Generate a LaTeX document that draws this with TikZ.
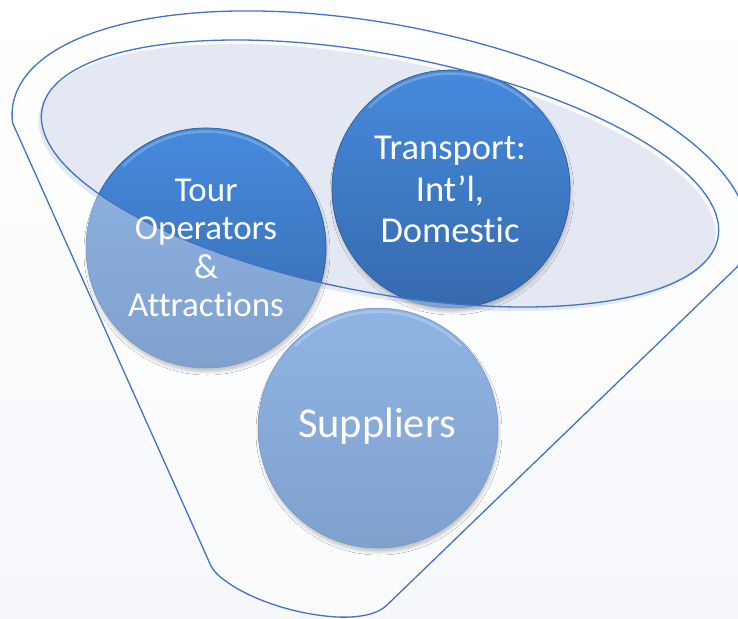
\documentclass[tikz,border=0pt]{standalone}
\usepackage{fontspec}
\newfontfamily\bubblefont{Carlito}[Ligatures={CommonOff,ContextualOff,RareOff}]
\usetikzlibrary{shadows.blur}

\definecolor{rimblue}{RGB}{68,114,196}
\definecolor{bgbottom}{RGB}{246,248,252}
\definecolor{bowlfill}{RGB}{227,232,242}
\definecolor{darktop}{RGB}{70,138,220}
\definecolor{darkbot}{RGB}{54,106,174}
\definecolor{darkedge}{RGB}{46,88,146}
\definecolor{lighttop}{RGB}{143,180,228}
\definecolor{lightbot}{RGB}{128,161,206}
\definecolor{lightedge}{RGB}{118,148,190}

\tikzset{
  rim/.style={draw=rimblue, line width=1.3pt, line join=round},
  bubble/.style={circle, inner sep=0pt, top color=lighttop, bottom color=lightbot,
    draw=lightedge, line width=0.5pt,
    blur shadow={shadow xshift=1pt, shadow yshift=-4pt, shadow blur radius=3pt, shadow opacity=22}},
  deepbubble/.style={top color=darktop, bottom color=darkbot, draw=darkedge, line width=0.6pt},
  gloss/.style={white, opacity=0.22, line width=2.5pt, line cap=round},
  bubbletext/.style={text=white, align=center, inner sep=0pt}
}

\begin{document}
\begin{tikzpicture}[x=1pt, y=1pt]
  \useasboundingbox (0,0) rectangle (738,-618);
  \clip (0,0) rectangle (738,-618);

  % soft page background
  \shade[top color=white, bottom color=bgbottom] (0,0) rectangle (738,-618);

  % funnel body: straight sides, rounded spout and the elliptic rim over the top
  \coordinate (rimL) at (12.6,-123);
  \coordinate (rimR) at (737.1,-267);
  \draw[rim, fill=white, fill opacity=0.55]
    (rimL) -- (211,-566)
    .. controls (219,-583) and (272,-613) .. (337,-617)
    .. controls (360,-618) and (378,-614) .. (387,-605)
    -- (rimR)
    -- plot[domain=-9.6:187.4, samples=140, variable=\t]
       ({380 + 373.5*cos(\t)*cos(10.8) + 149.4*sin(\t)*sin(10.8)},
        {-173.5 - 373.5*cos(\t)*sin(10.8) + 149.4*sin(\t)*cos(10.8)})
    -- cycle;

  % mouth of the funnel
  \fill[bowlfill, rotate around={-10.8:(377,-177.5)}]
    (377,-177.5) ellipse [x radius=344, y radius=119];

  % the three bubbles
  \node[bubble, minimum size=240pt] (tour) at (206,-248) {};
  \node[bubble, minimum size=238pt] (transport) at (451,-189) {};
  \node[bubble, minimum size=240pt] (suppliers) at (378,-428) {};

  % parts of the bubbles lying inside the mouth are deeper blue
  \begin{scope}
    \clip[rotate around={-10.8:(380,-173.5)}]
      (380,-173.5) ellipse [x radius=344, y radius=119];
    \path[deepbubble] (tour.center) circle (120);
    \path[deepbubble] (transport.center) circle (119);
  \end{scope}

  % top highlights
  \draw[gloss] (tour.center) ++(45:116.5) arc (45:135:116.5);
  \draw[gloss] (transport.center) ++(45:115.5) arc (45:135:115.5);
  \draw[gloss] (suppliers.center) ++(45:116.5) arc (45:135:116.5);

  % rim of the mouth
  \draw[rim, rotate around={-10.8:(380,-173.5)}]
    (380,-173.5) ellipse [x radius=344, y radius=119];

  % labels
  \node[bubbletext, anchor=north, font=\bubblefont\fontsize{35}{38.3}\selectfont]
    (tourtext) at (206,-179) {Tour\\Operators\\\&\\Attractions};
  \node[bubbletext, anchor=north, font=\bubblefont\fontsize{36.5}{41.5}\selectfont]
    (transporttext) at (450,-136) {Transport:\\Int’l,\\Domestic};
  \node[bubbletext, anchor=base, font=\bubblefont\fontsize{42.5}{48}\selectfont]
    (supplierstext) at (377,-437) {Suppliers};
\end{tikzpicture}
\end{document}
